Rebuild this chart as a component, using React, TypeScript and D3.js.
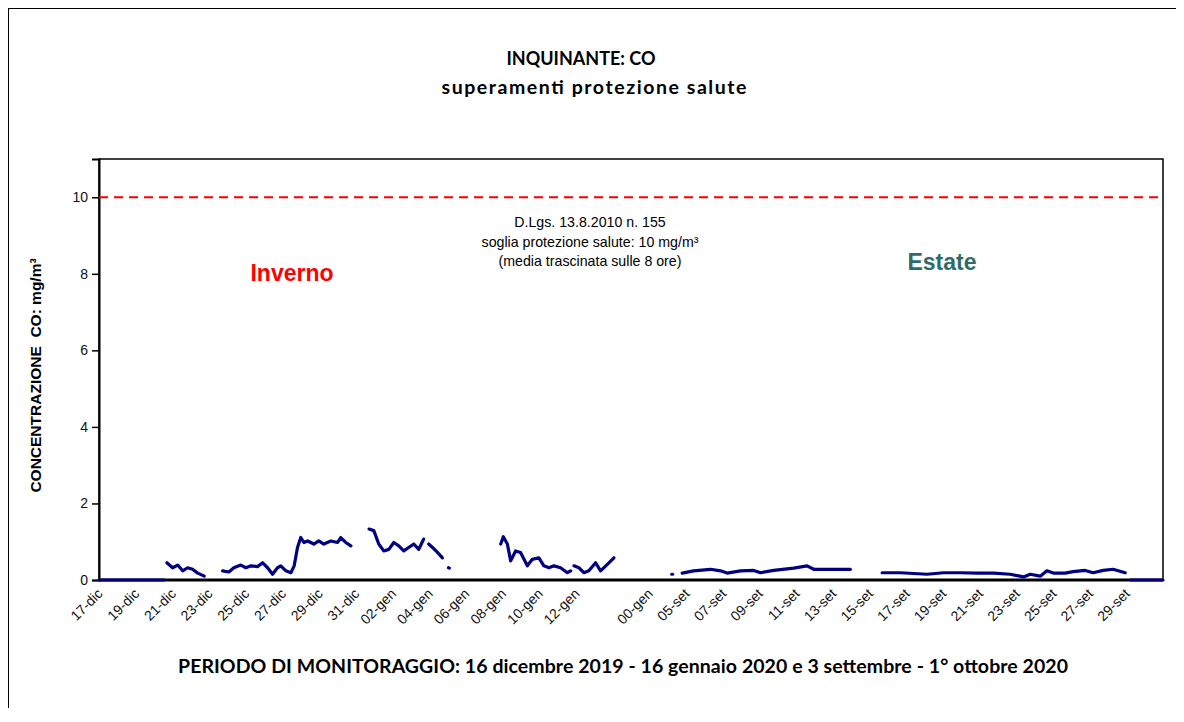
import React, { useEffect, useRef } from "react";
import * as d3 from "d3";

// each point is [day index on the category axis, CO mg/m3]
type Pt = [number, number];

const tickLabels = [
  "17-dic", "19-dic", "21-dic", "23-dic", "25-dic", "27-dic", "29-dic", "31-dic",
  "02-gen", "04-gen", "06-gen", "08-gen", "10-gen", "12-gen", "", "00-gen",
  "05-set", "07-set", "09-set", "11-set", "13-set", "15-set", "17-set", "19-set",
  "21-set", "23-set", "25-set", "27-set", "29-set"
];
const lastDay = 58;
const yTicks = [0, 2, 4, 6, 8, 10];
const limitValue = 10;

const zeroStart: Pt[] = [[0, 0], [3.54, 0]];
const winterA: Pt[] = [
  [3.7, 0.45], [4.01, 0.32], [4.29, 0.39], [4.56, 0.24], [4.83, 0.32],
  [5.1, 0.28], [5.38, 0.18], [5.74, 0.1]
];
const winterB: Pt[] = [
  [6.74, 0.24], [7.08, 0.21], [7.35, 0.32], [7.73, 0.39], [8.01, 0.32],
  [8.28, 0.37], [8.64, 0.35], [8.92, 0.45], [9.19, 0.32], [9.46, 0.15],
  [9.73, 0.32], [9.91, 0.37], [10.19, 0.24], [10.46, 0.19], [10.64, 0.37],
  [10.82, 0.85], [11.0, 1.11], [11.17, 0.98], [11.37, 1.02], [11.71, 0.94],
  [11.98, 1.02], [12.25, 0.94], [12.64, 1.02], [13.0, 0.98], [13.18, 1.11],
  [13.45, 0.98], [13.73, 0.89]
];
const winterC: Pt[] = [
  [14.72, 1.33], [14.98, 1.29], [15.25, 0.94], [15.52, 0.76], [15.8, 0.8],
  [16.07, 0.98], [16.34, 0.89], [16.61, 0.76], [16.88, 0.85], [17.16, 0.94],
  [17.43, 0.8], [17.7, 1.07]
];
const winterC2: Pt[] = [[17.97, 0.94], [18.18, 0.85], [18.45, 0.72], [18.72, 0.58]];
const winterDot: Pt[] = [[19.05, 0.32], [19.1, 0.31]];
const winterD: Pt[] = [
  [21.9, 0.94], [22.04, 1.13], [22.26, 0.94], [22.44, 0.5], [22.71, 0.76],
  [22.98, 0.72], [23.35, 0.37], [23.62, 0.54], [23.98, 0.58], [24.25, 0.37],
  [24.53, 0.32], [24.8, 0.37], [25.16, 0.32], [25.53, 0.19], [25.71, 0.24]
];
const winterE: Pt[] = [
  [25.89, 0.37], [26.16, 0.32], [26.43, 0.19], [26.7, 0.24], [27.07, 0.45],
  [27.34, 0.24], [27.71, 0.41], [28.07, 0.58]
];
const summerDot: Pt[] = [[31.22, 0.15], [31.27, 0.15]];
const summerA: Pt[] = [
  [31.79, 0.18], [32.41, 0.24], [33.33, 0.28], [33.88, 0.24], [34.24, 0.18],
  [34.97, 0.24], [35.69, 0.25], [36.06, 0.19], [36.78, 0.25], [37.87, 0.31],
  [38.6, 0.37], [38.96, 0.28], [39.69, 0.28], [40.96, 0.28]
];
const summerB: Pt[] = [
  [42.69, 0.19], [43.68, 0.19], [45.14, 0.15], [46.04, 0.19], [46.95, 0.19],
  [47.86, 0.18], [48.76, 0.18], [49.67, 0.15], [50.4, 0.08], [50.76, 0.15],
  [51.31, 0.1], [51.67, 0.24], [52.02, 0.18], [52.67, 0.18], [53.1, 0.22],
  [53.76, 0.25], [54.19, 0.19], [54.74, 0.25], [55.28, 0.28], [55.94, 0.19]
];
const zeroEnd: Pt[] = [[56.21, 0], [58, 0]];

const segments = [
  zeroStart, winterA, winterB, winterC, winterC2, winterDot, winterD, winterE,
  summerDot, summerA, summerB, zeroEnd
];

const W = 1168;
const H = 700;
const margin = { top: 151, right: 13, bottom: 128, left: 91 };
const arial = "'Liberation Sans', Arial, sans-serif";
const calibri = "Lato, 'Open Sans', sans-serif";

const App = () => {
  const ref = useRef<SVGSVGElement>(null);

  useEffect(() => {
    const svg = d3.select(ref.current);
    svg.selectAll("*").remove();

    const x = d3
      .scaleLinear()
      .domain([0, lastDay])
      .range([margin.left, W - margin.right]);
    const y = d3
      .scaleLinear()
      .domain([0, 11])
      .range([H - margin.bottom, margin.top]);

    // outer frame: only top and left edges are inside the picture
    svg.append("line").attr("x1", 0).attr("x2", W).attr("y1", 0.5).attr("y2", 0.5)
      .attr("stroke", "black");
    svg.append("line").attr("x1", 0.5).attr("x2", 0.5).attr("y1", 0).attr("y2", H)
      .attr("stroke", "black");

    svg
      .append("text")
      .attr("x", 573)
      .attr("y", 57)
      .attr("text-anchor", "middle")
      .style("font-family", calibri)
      .style("font-weight", "bold")
      .style("font-size", "18px")
      .text("INQUINANTE: CO");

    svg
      .append("text")
      .attr("x", 586)
      .attr("y", 86)
      .attr("text-anchor", "middle")
      .attr("textLength", 305)
      .attr("lengthAdjust", "spacing")
      .style("font-family", calibri)
      .style("font-weight", "bold")
      .style("font-size", "19.5px")
      .text("superamenti protezione salute");

    // plot border
    svg
      .append("rect")
      .attr("x", margin.left)
      .attr("y", margin.top)
      .attr("width", W - margin.left - margin.right)
      .attr("height", H - margin.top - margin.bottom)
      .attr("fill", "none")
      .attr("stroke", "black")
      .attr("stroke-width", 1.5);

    // y axis
    const yAxis = d3.axisLeft(y).tickValues(yTicks).tickSize(7).tickFormat(d3.format("d"));
    const gy = svg
      .append("g")
      .attr("transform", `translate(${margin.left},0)`)
      .call(yAxis);
    gy.select(".domain").attr("stroke-width", 2);
    gy.selectAll(".tick line").attr("stroke-width", 1.5);
    gy.selectAll(".tick text")
      .attr("x", -11)
      .style("font-family", arial)
      .style("font-size", "14px")
      .attr("fill", "#111");

    svg
      .append("text")
      .attr("transform", `translate(33,${(margin.top + H - margin.bottom) / 2 + 6}) rotate(-90)`)
      .attr("text-anchor", "middle")
      .style("font-family", arial)
      .style("font-weight", "bold")
      .style("font-size", "15.5px")
      .style("white-space", "pre")
      .text("CONCENTRAZIONE  CO: mg/m³");

    // x axis line
    svg
      .append("line")
      .attr("x1", margin.left)
      .attr("x2", W - margin.right)
      .attr("y1", y(0))
      .attr("y2", y(0))
      .attr("stroke", "black")
      .attr("stroke-width", 3);

    svg
      .append("g")
      .selectAll("text")
      .data(tickLabels)
      .enter()
      .append("text")
      .attr("transform", (d, i) => `translate(${x(i * 2) + 1},${y(0) + 11}) rotate(-45)`)
      .attr("text-anchor", "end")
      .attr("dy", "0.35em")
      .style("font-family", arial)
      .style("font-size", "14px")
      .attr("fill", "#111")
      .text(d => d);

    // limit line
    svg
      .append("line")
      .attr("x1", margin.left)
      .attr("x2", W - margin.right)
      .attr("y1", y(limitValue))
      .attr("y2", y(limitValue))
      .attr("stroke", "#ff0000")
      .attr("stroke-width", 2)
      .attr("stroke-dasharray", "9,6");

    const note = [
      "D.Lgs. 13.8.2010 n. 155",
      "soglia protezione salute: 10 mg/m³",
      "(media trascinata sulle 8 ore)"
    ];
    svg
      .append("g")
      .selectAll("text")
      .data(note)
      .enter()
      .append("text")
      .attr("x", 582)
      .attr("y", (d, i) => 219 + i * 19.5)
      .attr("text-anchor", "middle")
      .style("font-family", arial)
      .style("font-size", "14.2px")
      .text(d => d);

    svg
      .append("text")
      .attr("x", 284)
      .attr("y", 273)
      .attr("text-anchor", "middle")
      .style("font-family", arial)
      .style("font-weight", "bold")
      .style("font-size", "23px")
      .attr("fill", "#ff0000")
      .text("Inverno");

    svg
      .append("text")
      .attr("x", 934)
      .attr("y", 262)
      .attr("text-anchor", "middle")
      .style("font-family", arial)
      .style("font-weight", "bold")
      .style("font-size", "23px")
      .attr("fill", "#2f6b6b")
      .text("Estate");

    // series
    const line = d3
      .line<Pt>()
      .x(d => x(d[0]))
      .y(d => y(d[1]));

    svg
      .append("g")
      .selectAll("path")
      .data(segments)
      .enter()
      .append("path")
      .attr("d", d => line(d))
      .attr("fill", "none")
      .attr("stroke", "#000080")
      .attr("stroke-width", 3.2)
      .attr("stroke-linejoin", "round")
      .attr("stroke-linecap", "round");

    svg
      .append("text")
      .attr("x", 615)
      .attr("y", 665)
      .attr("text-anchor", "middle")
      .attr("textLength", 890)
      .attr("lengthAdjust", "spacing")
      .style("font-family", calibri)
      .style("font-weight", "bold")
      .style("font-size", "19.5px")
      .text("PERIODO DI MONITORAGGIO: 16 dicembre 2019 - 16 gennaio 2020 e 3 settembre - 1° ottobre 2020");
  }, []);

  return <svg ref={ref} width={W} height={H} style={{ display: "block" }} />;
};

export default App;
